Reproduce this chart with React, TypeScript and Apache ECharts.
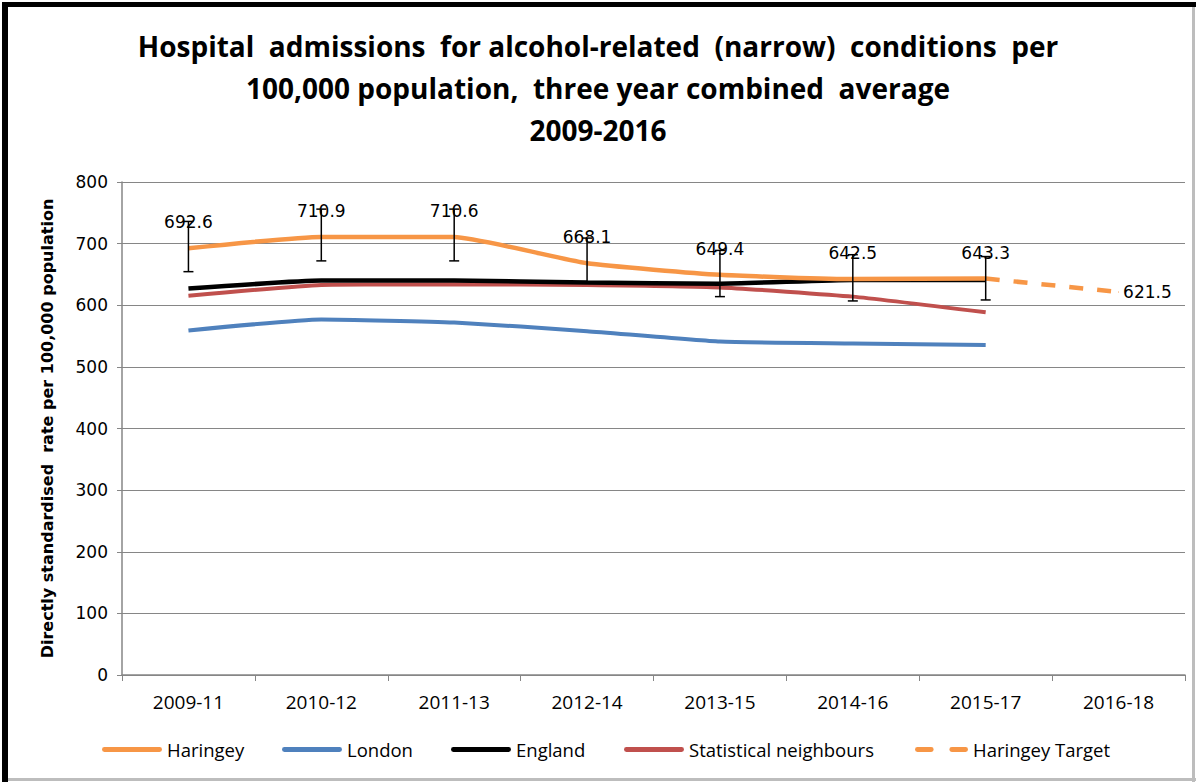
import React, { useEffect, useRef } from "react";
import * as echarts from "echarts";

const categories = ["2009-11", "2010-12", "2011-13", "2012-14", "2013-15", "2014-16", "2015-17", "2016-18"];
const haringey = [692.6, 710.9, 710.6, 668.1, 649.4, 642.5, 643.3, null];
const london = [559, 577, 572, 558, 541, 538, 535.5, null];
const england = [627, 640, 640, 637, 635, 641, 641, null];
const statNeighbours = [615.6, 633, 634, 633, 629, 614, 588.6, null];
const haringeyTarget = [null, null, null, null, null, null, 643.3, 621.5];
const errorLow = [654.5, 672, 672, 637, 614, 607, 608.6];
const errorHigh = [736, 756, 756, 709, 689, 682, 679];
const yTicks = { min: 0, max: 800, interval: 100 };

const titleText = "Hospital  admissions  for alcohol-related  (narrow)  conditions  per\n100,000 population,  three year combined  average\n2009-2016";
const yAxisName = "Directly standardised  rate per 100,000 population";

const ORANGE = "#F79646";
const BLUE = "#4F81BD";
const RED = "#C0504D";
const BLACK = "#000000";

const sansFont = "'Open Sans', sans-serif";
const verdanaLike = "'DejaVu Sans', sans-serif";

export default function App() {
  const ref = useRef<HTMLDivElement>(null);
  useEffect(() => {
    if (!ref.current) return;
    const chart = echarts.init(ref.current, null, { renderer: "svg" });
    const errData = errorLow.map((lo, i) => [i, lo, errorHigh[i]]);
    const solidIcon = "path://M2,0H58A2.5,2.5 0 0 1 58,5H2A2.5,2.5 0 0 1 2,0Z";
    const dashIcon = "path://M2,0H16A2.5,2.5 0 0 1 16,5H2A2.5,2.5 0 0 1 2,0Z M37,0H51A2.5,2.5 0 0 1 51,5H37A2.5,2.5 0 0 1 37,0Z";
    const legendDefs = [
      { name: "Haringey", left: 102, icon: solidIcon, w: 60 },
      { name: "London", left: 282, icon: solidIcon, w: 60 },
      { name: "England", left: 451, icon: solidIcon, w: 60 },
      { name: "Statistical neighbours", left: 624, icon: solidIcon, w: 60 },
      { name: "Haringey Target", left: 915, icon: dashIcon, w: 53 },
    ];
    chart.setOption({
      animation: false,
      backgroundColor: "#ffffff",
      title: {
        text: titleText,
        left: "center",
        top: 20,
        textStyle: {
          fontFamily: sansFont,
          fontWeight: "bold",
          fontSize: 28,
          lineHeight: 42,
          color: "#000",
        },
      },
      legend: legendDefs.map((d) => ({
        data: [{ name: d.name, icon: d.icon }],
        left: d.left,
        top: 740,
        padding: 0,
        itemWidth: d.w,
        itemHeight: 5,
        itemGap: 4,
        textStyle: { fontFamily: sansFont, fontSize: 18.5, color: "#000" },
      })),
      grid: { left: 122, right: 11, top: 182, bottom: 107, containLabel: false },
      xAxis: {
        type: "category",
        data: categories,
        boundaryGap: true,
        axisLine: { lineStyle: { color: "#868686", width: 1.5 } },
        axisTick: { show: true, length: 6, lineStyle: { color: "#868686" } },
        axisLabel: { fontFamily: sansFont, fontSize: 19, color: "#000", margin: 17 },
        splitLine: { show: false },
      },
      yAxis: {
        type: "value",
        min: yTicks.min,
        max: yTicks.max,
        interval: yTicks.interval,
        name: yAxisName,
        nameLocation: "middle",
        nameGap: 67,
        nameTextStyle: { fontFamily: verdanaLike, fontWeight: "bold", fontSize: 16, color: "#000" },
        axisLine: { show: true, lineStyle: { color: "#868686", width: 1.5 } },
        axisTick: { show: true, length: 5, lineStyle: { color: "#868686" } },
        axisLabel: { fontFamily: verdanaLike, fontSize: 17, color: "#000", margin: 14 },
        splitLine: { show: true, lineStyle: { color: "#868686", width: 1 } },
      },
      series: [
        {
          name: "Haringey",
          type: "line",
          data: haringey,
          symbol: "circle",
          symbolSize: 1,
          showSymbol: true,
          smooth: 0.15,
          z: 5,
          lineStyle: { color: ORANGE, width: 4.5 },
          itemStyle: { color: ORANGE },
          label: {
            show: true,
            position: "top",
            distance: 17,
            fontFamily: verdanaLike,
            fontSize: 17,
            color: "#000",
            formatter: (p: any) => Number(p.value).toFixed(1),
          },
        },
        {
          name: "London",
          type: "line",
          data: london,
          symbol: "none",
          smooth: 0.15,
          lineStyle: { color: BLUE, width: 4 },
          itemStyle: { color: BLUE },
        },
        {
          name: "England",
          type: "line",
          data: england,
          symbol: "none",
          smooth: 0.15,
          z: 4,
          lineStyle: { color: BLACK, width: 4.5 },
          itemStyle: { color: BLACK },
        },
        {
          name: "Statistical neighbours",
          type: "line",
          data: statNeighbours,
          symbol: "none",
          smooth: 0.15,
          z: 3,
          lineStyle: { color: RED, width: 4 },
          itemStyle: { color: RED },
        },
        {
          name: "Haringey Target",
          type: "line",
          data: haringeyTarget,
          symbol: "circle",
          symbolSize: 1,
          showSymbol: true,
          z: 5,
          lineStyle: { color: ORANGE, width: 4.5, type: [14, 14] },
          itemStyle: { color: ORANGE },
          label: {
            show: true,
            position: "right",
            distance: 4,
            fontFamily: verdanaLike,
            fontSize: 17,
            color: "#000",
            formatter: (p: any) => (p.dataIndex === 7 ? Number(p.value).toFixed(1) : ""),
          },
        },
        {
          name: "errors",
          type: "custom",
          data: errData,
          z: 6,
          renderItem: (params: any, api: any) => {
            const lo = api.coord([api.value(0), api.value(1)]);
            const hi = api.coord([api.value(0), api.value(2)]);
            const x = lo[0];
            const st = { stroke: "#000", lineWidth: 1.5 };
            return {
              type: "group",
              children: [
                { type: "line", shape: { x1: x, y1: lo[1], x2: x, y2: hi[1] }, style: st },
                { type: "line", shape: { x1: x - 5, y1: lo[1], x2: x + 5, y2: lo[1] }, style: st },
                { type: "line", shape: { x1: x - 5, y1: hi[1], x2: x + 5, y2: hi[1] }, style: st },
              ],
            };
          },
        },
      ],
      graphic: [
        { type: "rect", shape: { x: 2, y: 2, width: 1194, height: 5 }, style: { fill: "#000" } },
        { type: "rect", shape: { x: 2, y: 2, width: 6, height: 780 }, style: { fill: "#000" } },
        { type: "rect", shape: { x: 1192, y: 7, width: 3, height: 775 }, style: { fill: "#bdbdbd" } },
        { type: "rect", shape: { x: 8, y: 778, width: 1188, height: 3 }, style: { fill: "#bdbdbd" } },
      ],
    });
    return () => chart.dispose();
  }, []);
  return <div ref={ref} style={{ position: "fixed", left: 0, top: 0, width: 1196, height: 782 }} />;
}
